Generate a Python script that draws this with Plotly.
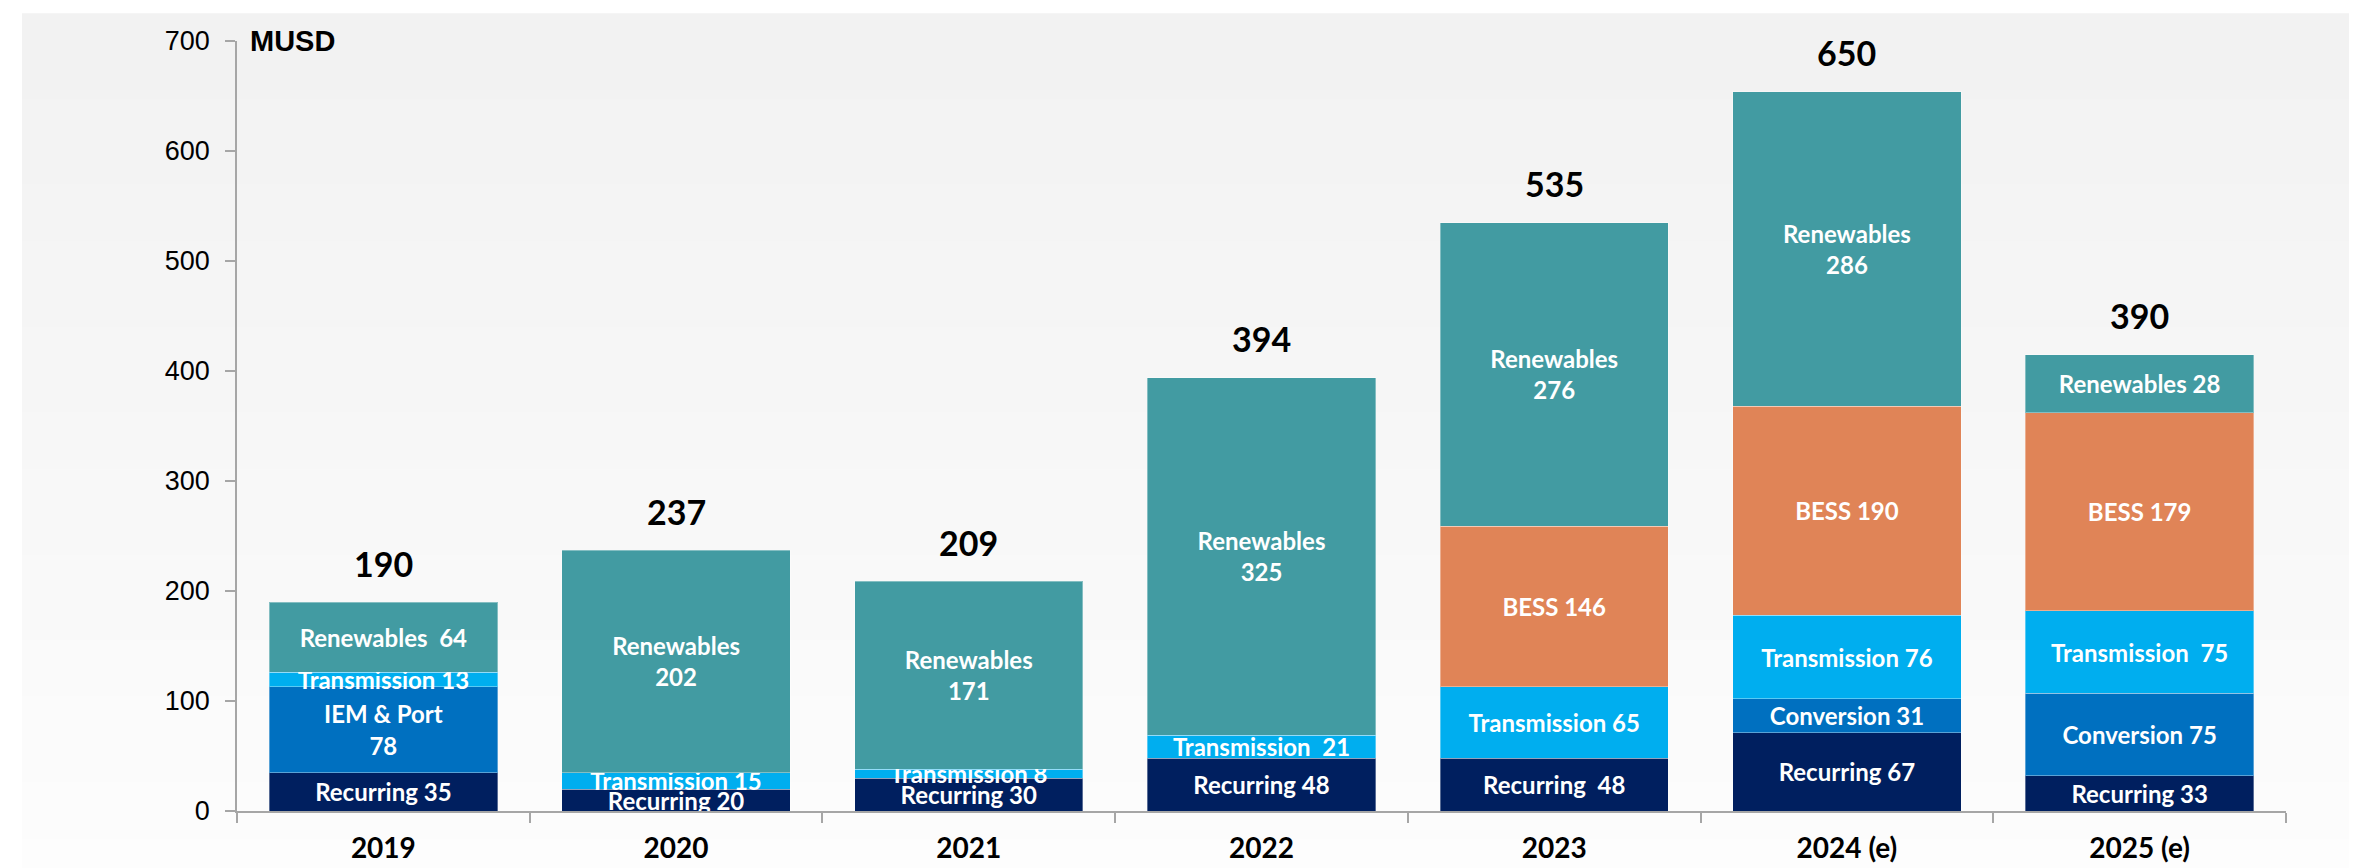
import plotly.graph_objects as go

# capex by segment, MUSD
years = ["2019", "2020", "2021", "2022", "2023", "2024 (e)", "2025 (e)"]
recurring = [35, 20, 30, 48, 48, 71, 32]
conversion = [78, None, None, None, None, 31, 75]   # "IEM & Port" in 2019
transmission = [13, 15, 8, 21, 65, 76, 75]
bess = [None, None, None, None, 146, 190, 180]
renewables = [64, 202, 171, 325, 276, 286, 53]

recurring_lbl = ["Recurring 35", "Recurring 20", "Recurring 30", "Recurring 48",
                 "Recurring\u00a0 48", "Recurring 67", "Recurring 33"]
conversion_lbl = ["IEM & Port<br>78", "", "", "", "", "Conversion 31", "Conversion 75"]
transmission_lbl = ["Transmission 13", "Transmission 15", "Transmission 8",
                    "Transmission\u00a0 21", "Transmission 65", "Transmission 76",
                    "Transmission\u00a0 75"]
bess_lbl = ["", "", "", "", "BESS 146", "BESS 190", "BESS 179"]
renewables_lbl = ["Renewables\u00a0 64", "Renewables<br>202", "Renewables<br>171",
                  "Renewables<br>325", "Renewables<br>276", "Renewables<br>286",
                  "Renewables 28"]
totals_lbl = ["190", "237", "209", "394", "535", "650", "390"]

W, H = 2357, 868
L, R, T, B = 229, 79, 33, 57
pw, ph = W - L - R, H - T - B

def px_x(x):
    return (x - L) / pw

def px_y(y):
    return (H - B - y) / ph

series = [
    ("Recurring", recurring, recurring_lbl, "#001F5F"),
    ("IEM & Port / Conversion", conversion, conversion_lbl, "#0070C0"),
    ("Transmission", transmission, transmission_lbl, "#00AEEF"),
    ("BESS", bess, bess_lbl, "#E08457"),
    ("Renewables", renewables, renewables_lbl, "#429BA2"),
]

fig = go.Figure()
for name, vals, lbls, col in series:
    fig.add_trace(go.Bar(
        x=years, y=vals, name=name, text=lbls,
        marker=dict(color=col, line=dict(color="rgba(255,255,255,0.35)", width=1)),
        textposition="inside", insidetextanchor="middle", textangle=0,
        textfont=dict(family="Lato", size=24, color="white", weight=700),
        hoverinfo="skip",
    ))

# totals above each bar (x given as category index)
for i, yr in enumerate(years):
    top = sum(v[i] or 0 for _, v, _, _ in series)
    fig.add_annotation(x=i, y=top, text=totals_lbl[i], showarrow=False,
                       yanchor="middle", yshift=39,
                       font=dict(family="Lato", size=34, color="black", weight=700))

fig.add_annotation(xref="paper", x=0, xshift=11, xanchor="left",
                   y=700, yanchor="middle", text="<b>MUSD</b>", showarrow=False,
                   font=dict(family="Liberation Sans", size=29, color="black"))

# light grey vertical gradient behind everything
nb = 30
y0, y1 = 5, H
for k in range(nb):
    c = int(242 + (253 - 242) * k / (nb - 1))
    ya = y0 + (y1 - y0) * k / nb
    yb = y0 + (y1 - y0) * (k + 1) / nb + 1
    fig.add_shape(type="rect", xref="paper", yref="paper", layer="below",
                  x0=px_x(14), x1=px_x(2347), y0=px_y(yb), y1=px_y(ya),
                  line_width=0, fillcolor=f"rgb({c},{c},{c})")

fig.update_layout(
    width=W, height=H,
    margin=dict(l=L, r=R, t=T, b=B),
    barmode="stack", bargap=0.22,
    showlegend=False,
    paper_bgcolor="white", plot_bgcolor="rgba(0,0,0,0)",
    uniformtext=dict(minsize=24, mode="show"),
)
fig.update_yaxes(range=[0, 700], dtick=100, showgrid=False, zeroline=False,
                 showline=True, linecolor="#A6A6A6", linewidth=1.5,
                 ticks="outside", ticklen=10, tickcolor="#A6A6A6", tickwidth=1.5,
                 ticklabelstandoff=10,
                 tickfont=dict(family="Liberation Sans", size=27, color="black"))
fig.update_xaxes(type="category", range=[-0.5, len(years) - 0.5],
                 showgrid=False, showline=True,
                 linecolor="#A6A6A6", linewidth=1.5,
                 ticks="outside", tickson="boundaries", ticklen=10,
                 tickcolor="#A6A6A6", tickwidth=1.5, ticklabelstandoff=12,
                 tickfont=dict(family="Lato", size=28, color="black", weight=700))

fig.write_html("out.html")
